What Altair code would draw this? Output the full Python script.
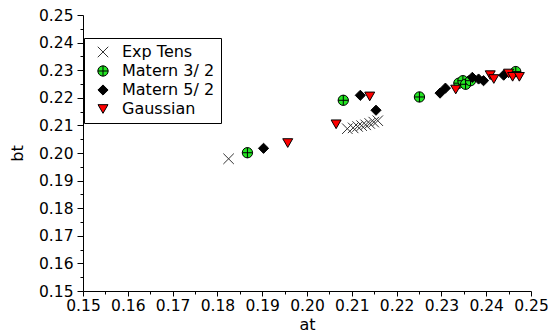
import altair as alt
import pandas as pd

series_names = ["Exp Tens", "Matern 3/ 2", "Matern 5/ 2", "Gaussian"]

exp_x = [0.1825, 0.2090, 0.2103, 0.2113, 0.2122, 0.2131, 0.2140, 0.2149, 0.2158]
exp_y = [0.1979, 0.2088, 0.2091, 0.2096, 0.2099, 0.2102, 0.2107, 0.2112, 0.2117]

m32_x = [0.1867, 0.2081, 0.2251, 0.2339, 0.2348, 0.2354, 0.2365, 0.2466]
m32_y = [0.2001, 0.2191, 0.2203, 0.2253, 0.2262, 0.2249, 0.2262, 0.2295]

m52_x = [0.1903, 0.2119, 0.2154, 0.2297, 0.2309, 0.2369, 0.2383, 0.2394, 0.2439]
m52_y = [0.2017, 0.2209, 0.2155, 0.2217, 0.2235, 0.2274, 0.2268, 0.2262, 0.2282]

gau_x = [0.1957, 0.2065, 0.2140, 0.2332, 0.2409, 0.2417, 0.2450, 0.2459, 0.2474]
gau_y = [0.2036, 0.2104, 0.2205, 0.2230, 0.2282, 0.2268, 0.2288, 0.2276, 0.2276]

major_ticks = [0.15, 0.16, 0.17, 0.18, 0.19, 0.20, 0.21, 0.22, 0.23, 0.24, 0.25]
minor_ticks = [0.155, 0.165, 0.175, 0.185, 0.195, 0.205, 0.215, 0.225, 0.235, 0.245]

rows = []
for name, xs, ys in zip(series_names, [exp_x, m32_x, m52_x, gau_x], [exp_y, m32_y, m52_y, gau_y]):
    for a, b in zip(xs, ys):
        rows.append({"series": name, "at": a, "bt": b})
df = pd.DataFrame(rows)

FONT = "DejaVu Sans"
dom = [0.15, 0.25]

shapes = [
    "M-1,-1L1,1M-1,1L1,-1",
    "M-1,0A1,1,0,1,1,1,0A1,1,0,1,1,-1,0ZM-1,0L1,0M0,-1L0,1",
    "diamond",
    "triangle-down",
]
fills = ["transparent", "#22e622", "#000000", "#ff0000"]
strokes = ["#333333", "#000000", "#000000", "#000000"]
sizes = [110, 100, 90, 140]

points = alt.Chart(df).mark_point(filled=True, opacity=1, strokeWidth=1).encode(
    x=alt.X("at:Q", scale=alt.Scale(domain=dom, nice=False, zero=False),
            axis=alt.Axis(orient="bottom", values=major_ticks, format=".2f", title="at",
                          tickSize=5, labelPadding=2, titlePadding=3, labelFlush=False)),
    y=alt.Y("bt:Q", scale=alt.Scale(domain=dom, nice=False, zero=False),
            axis=alt.Axis(orient="left", values=major_ticks, format=".2f", title="bt",
                          tickSize=6, labelPadding=4, titlePadding=13, labelFlush=False)),
    shape=alt.Shape("series:N", scale=alt.Scale(domain=series_names, range=shapes), title=None),
    fill=alt.Fill("series:N", scale=alt.Scale(domain=series_names, range=fills), title=None),
    stroke=alt.Stroke("series:N", scale=alt.Scale(domain=series_names, range=strokes), title=None),
    size=alt.Size("series:N", scale=alt.Scale(domain=series_names, range=sizes), title=None),
    order=alt.Order("order:Q"),
).transform_calculate(
    order="indexof(" + str(series_names) + ", datum.series)"
)

minor = alt.Chart(df).mark_point(opacity=0).encode(
    x=alt.X("at:Q", scale=alt.Scale(domain=dom, nice=False, zero=False),
            axis=alt.Axis(orient="bottom", values=minor_ticks, labels=False, domain=False,
                          title=None, tickSize=3)),
    y=alt.Y("bt:Q", scale=alt.Scale(domain=dom, nice=False, zero=False),
            axis=alt.Axis(orient="left", values=minor_ticks, labels=False, domain=False,
                          title=None, tickSize=3)),
)

chart = alt.layer(points, minor).resolve_axis(x="independent", y="independent").properties(
    width=448, height=276,
    autosize=alt.AutoSizeParams(type="none"),
    padding={"left": 75, "top": 7, "right": 17, "bottom": 42},
).configure_view(stroke=None).configure_axis(
    domainColor="black", domainWidth=1, tickColor="black", tickWidth=1,
    labelColor="black", labelFont=FONT, labelFontSize=15.5, grid=False,
    titleFont=FONT, titleFontSize=16, titleFontWeight="normal", titleColor="black",
).configure_legend(
    orient="none", legendX=1, legendY=23, strokeColor="black", fillColor="white",
    padding=6, labelFont=FONT, labelFontSize=16, labelColor="black", rowPadding=3,
    symbolOffset=5, labelOffset=11, cornerRadius=0, symbolStrokeWidth=1,
)

chart.save("out.html", embed_options={"renderer": "svg", "actions": False})
